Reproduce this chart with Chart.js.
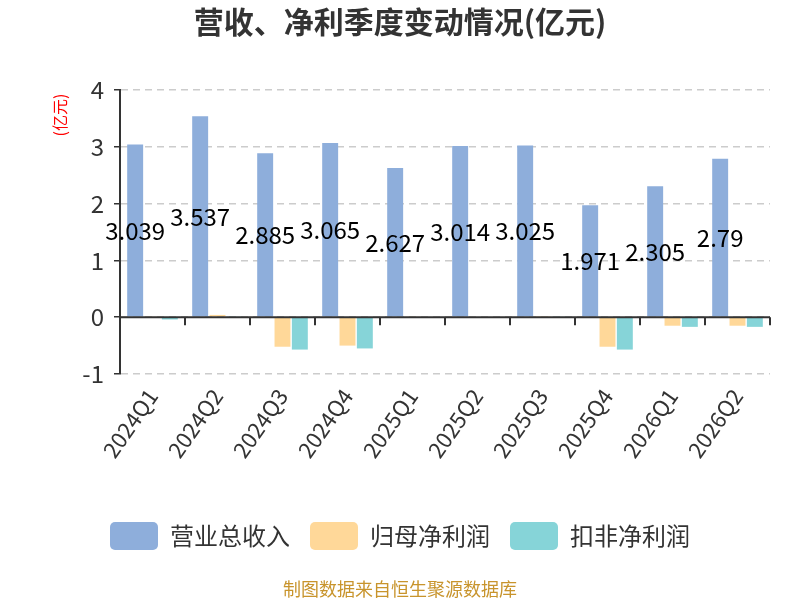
<!DOCTYPE html>
<html>
<head>
<meta charset="utf-8">
<script src="https://cdn.jsdelivr.net/npm/chart.js@4/dist/chart.umd.min.js"></script>
<style>
  html, body { margin: 0; padding: 0; background: #fff; }
  #wrap { width: 800px; height: 600px; }
</style>
</head>
<body>
<div id="wrap"><canvas id="c" width="800" height="600"></canvas></div>
<script>
const quarters = ['2024Q1', '2024Q2', '2024Q3', '2024Q4', '2025Q1', '2025Q2', '2025Q3', '2025Q4', '2026Q1', '2026Q2'];
const revenue = [3.039, 3.537, 2.885, 3.065, 2.627, 3.014, 3.025, 1.971, 2.305, 2.79];
const netProfit = [0.01, 0.04, -0.52, -0.50, 0.01, -0.01, 0.02, -0.52, -0.15, -0.15];
const deductedProfit = [-0.04, 0.01, -0.57, -0.55, -0.01, 0.0, 0.01, -0.57, -0.17, -0.17];
const yTicks = [-1, 0, 1, 2, 3, 4];

const FONT = '"Noto Sans CJK SC", "Noto Sans", sans-serif';

// title, unit label, footer, zero axis line and bar value labels
const decor = {
    id: 'decor',
    afterDatasetsDraw(chart) {
        const ctx = chart.ctx;
        const x = chart.scales.x;
        const y = chart.scales.y;
        const y0 = y.getPixelForValue(0);

        ctx.save();
        ctx.strokeStyle = '#333';
        ctx.lineWidth = 2;
        ctx.beginPath();
        ctx.moveTo(x.left, y0);
        ctx.lineTo(x.right, y0);
        const step = (x.right - x.left) / quarters.length;
        for (let i = 1; i <= quarters.length; i++) {
            const px = Math.round(x.left + step * i);
            ctx.moveTo(px, y0);
            ctx.lineTo(px, y0 + 8);
        }
        ctx.stroke();

        const meta = chart.getDatasetMeta(0);
        ctx.fillStyle = '#000';
        ctx.font = '24px ' + FONT;
        ctx.textAlign = 'center';
        ctx.textBaseline = 'middle';
        revenue.forEach((v, i) => {
            const bar = meta.data[i];
            ctx.fillText(String(v), bar.x, y.getPixelForValue(v / 2));
        });
        ctx.restore();
    },
    afterDraw(chart) {
        const ctx = chart.ctx;
        ctx.save();
        ctx.textAlign = 'center';
        ctx.textBaseline = 'middle';
        ctx.fillStyle = '#333';
        ctx.font = 'bold 30px ' + FONT;
        ctx.fillText('营收、净利季度变动情况(亿元)', 400, 22);

        ctx.fillStyle = '#c8942c';
        ctx.font = '18px ' + FONT;
        ctx.fillText('制图数据来自恒生聚源数据库', 400, 589);

        ctx.translate(60, 115);
        ctx.rotate(-Math.PI / 2);
        ctx.fillStyle = '#ff0000';
        ctx.font = '16px ' + FONT;
        ctx.fillText('(亿元)', 0, 0);
        ctx.restore();
    }
};

new Chart(document.getElementById('c'), {
    type: 'bar',
    data: {
        labels: quarters,
        datasets: [
            { label: '营业总收入', data: revenue, backgroundColor: '#8eaedb' },
            { label: '归母净利润', data: netProfit, backgroundColor: '#ffd899' },
            { label: '扣非净利润', data: deductedProfit, backgroundColor: '#86d4d8' }
        ]
    },
    options: {
        responsive: false,
        animation: false,
        devicePixelRatio: 1,
        categoryPercentage: 0.8,
        barPercentage: 0.92,
        layout: { padding: { left: 30, right: 30, top: 90, bottom: 40 } },
        scales: {
            x: {
                grid: { display: false },
                border: { display: false },
                ticks: {
                    color: '#333',
                    font: { size: 22, family: FONT },
                    minRotation: 55,
                    maxRotation: 55,
                    padding: 2
                },
                afterFit(scale) { scale.height = 128; }
            },
            y: {
                min: -1,
                max: 4,
                afterBuildTicks(scale) { scale.ticks = yTicks.map(v => ({ value: v })); },
                grid: { color: '#ccc', lineWidth: 1.5, tickColor: '#333', tickLength: 6, tickBorderDash: [] },
                border: { display: true, color: '#333', width: 2, dash: [7, 5] },
                ticks: { color: '#333', font: { size: 24, family: FONT }, padding: 10 },
                afterFit(scale) { scale.width = 90; }
            }
        },
        plugins: {
            legend: {
                position: 'bottom',
                labels: {
                    color: '#333',
                    font: { size: 24, family: FONT },
                    boxWidth: 48,
                    boxHeight: 28,
                    useBorderRadius: true,
                    borderRadius: 5,
                    padding: 20
                }
            },
            tooltip: { enabled: false }
        }
    },
    plugins: [decor]
});
</script>
</body>
</html>
